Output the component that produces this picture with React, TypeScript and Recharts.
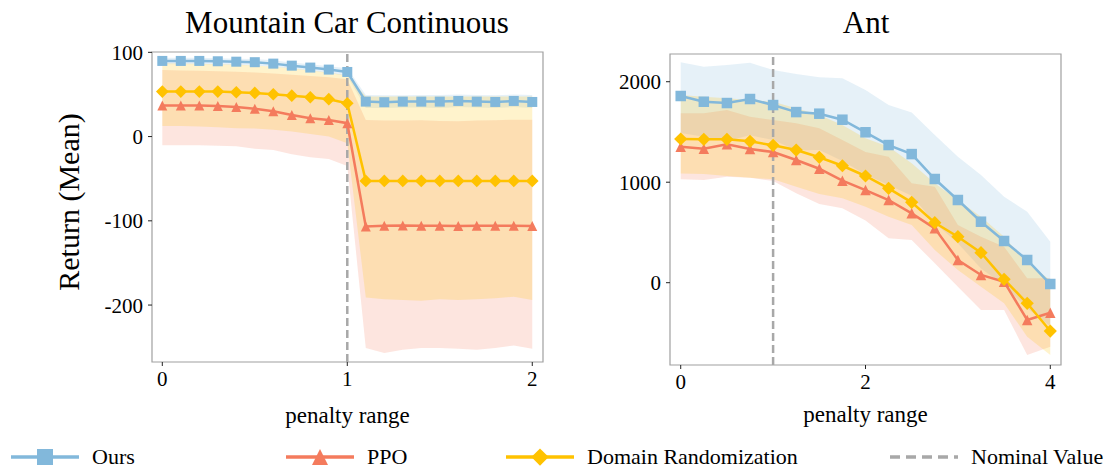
import React from 'react'
import {
  ComposedChart,
  Line,
  Area,
  XAxis,
  YAxis,
  ReferenceLine,
  ReferenceArea,
} from 'recharts'

const FONT = '"Liberation Serif", "DejaVu Serif", "Times New Roman", serif'
const BLUE = '#82B8DB'
const RED = '#F47B5D'
const YELLOW = '#FFC200'
const DASH = '#A8A8A8'
const FRAME = '#A0A0A0'

// Mountain Car Continuous
const mcX = [0, 0.1, 0.2, 0.3, 0.4, 0.5, 0.6, 0.7, 0.8, 0.9, 1.0, 1.1, 1.2, 1.3, 1.4, 1.5, 1.6, 1.7, 1.8, 1.9, 2.0]
const mcOurs = [89.8, 89.8, 89.8, 89.4, 88.9, 88.3, 86.6, 84.2, 81.9, 79.5, 76.7, 41.5, 40.8, 41.5, 41.5, 41.5, 42.3, 41.5, 41.1, 42.3, 41.1]
const mcOursLo = [86, 86, 86, 85.5, 85, 84.5, 83, 80.5, 78, 75.5, 72, 34, 34, 34.5, 34.5, 34, 35, 34.5, 34, 35, 34]
const mcOursHi = [93.5, 93.5, 93.5, 93, 92.5, 92, 90.5, 88, 86, 83.5, 81, 49.5, 49, 49, 49.5, 49.5, 50, 49.5, 49, 50, 49.5]
const mcPpo = [36.8, 36.8, 36.8, 36.4, 35.2, 32.9, 30.1, 25.7, 21.8, 19.8, 15.9, -106.8, -106, -105.5, -106, -106, -106.2, -106, -106, -106, -106.2]
const mcPpoLo = [-10.2, -10.2, -10.3, -10.8, -11.5, -14.5, -16, -21, -24.5, -26.5, -35, -251, -257, -253, -251, -251, -252, -253, -251, -248, -252]
const mcPpoHi = [79, 78.5, 78, 77.5, 77, 76, 75, 73.5, 72, 70.5, 68, 19.8, 19, 19, 19.5, 18.5, 18.3, 19, 19.5, 20, 20]
const mcDr = [53.4, 53.4, 53.4, 53.4, 52.6, 51.8, 50.3, 48.6, 46.7, 44.4, 39.6, -52.6, -52.6, -52.6, -52.6, -52.6, -52.6, -52.6, -52.6, -52.6, -52.6]
const mcDrLo = [12.7, 12.5, 12, 11, 10, 9.5, 8, 6, 3, 0, -7.8, -191, -193, -194, -195, -193, -194, -193, -192, -190, -194]
const mcDrHi = [87, 86.8, 86.5, 86, 85.5, 84.5, 83, 81, 78.5, 76, 72.5, 47.5, 47.5, 47.5, 47.5, 47.5, 47.5, 47.5, 47.5, 47.5, 47.5]
const mcXTicks = [0, 1, 2]
const mcYTicks = [-200, -100, 0, 100]

// Ant
const antX = [0, 0.25, 0.5, 0.75, 1, 1.25, 1.5, 1.75, 2, 2.25, 2.5, 2.75, 3, 3.25, 3.5, 3.75, 4]
const antOurs = [1858, 1801, 1788, 1828, 1768, 1698, 1682, 1622, 1497, 1370, 1280, 1032, 823, 607, 415, 226, -13]
const antOursLo = [1490, 1453, 1410, 1467, 1420, 1319, 1320, 1210, 1077, 972, 865, 594, 392, 142, -26, -255, -434]
const antOursHi = [2193, 2149, 2166, 2189, 2116, 2077, 2044, 2034, 1917, 1768, 1695, 1470, 1254, 1072, 856, 707, 408]
const antPpo = [1353, 1333, 1377, 1330, 1300, 1221, 1134, 1015, 922, 823, 690, 541, 226, 77, 10, -371, -299]
const antPpoLo = [1029, 1022, 1055, 1045, 1012, 889, 783, 740, 620, 442, 425, 193, -40, -272, -272, -719, -637]
const antPpoHi = [1686, 1686, 1718, 1652, 1619, 1586, 1536, 1420, 1300, 1254, 989, 955, 574, 458, 358, 44, 44]
const antDr = [1430, 1427, 1427, 1407, 1367, 1320, 1248, 1164, 1062, 939, 800, 597, 458, 299, 34, -205, -481]
const antDrLo = [1088, 1082, 1062, 1045, 1029, 955, 883, 840, 756, 657, 574, 325, 126, -40, -205, -537, -719]
const antDrHi = [1868, 1851, 1835, 1818, 1801, 1735, 1669, 1569, 1437, 1353, 1188, 989, 823, 657, 458, 193, 27]
const antXTicks = [0, 2, 4]
const antYTicks = [0, 1000, 2000]

const nominalValue = 1

const seriesMeta = [
  { key: 'ours', name: 'Ours', color: BLUE, shape: 'square' },
  { key: 'ppo', name: 'PPO', color: RED, shape: 'triangle' },
  { key: 'dr', name: 'Domain Randomization', color: YELLOW, shape: 'diamond' },
]

function buildRows(
  x: number[],
  ours: number[], oursLo: number[], oursHi: number[],
  ppo: number[], ppoLo: number[], ppoHi: number[],
  dr: number[], drLo: number[], drHi: number[]
) {
  return x.map((v, i) => ({
    x: v,
    ours: ours[i],
    oursBand: [oursLo[i], oursHi[i]],
    ppo: ppo[i],
    ppoBand: [ppoLo[i], ppoHi[i]],
    dr: dr[i],
    drBand: [drLo[i], drHi[i]],
  }))
}

const mcRows = buildRows(mcX, mcOurs, mcOursLo, mcOursHi, mcPpo, mcPpoLo, mcPpoHi, mcDr, mcDrLo, mcDrHi)
const antRows = buildRows(antX, antOurs, antOursLo, antOursHi, antPpo, antPpoLo, antPpoHi, antDr, antDrLo, antDrHi)

function Marker({ shape, cx, cy, size, color }: { shape: string; cx: number; cy: number; size: number; color: string }) {
  const h = size / 2
  if (shape === 'square') {
    return <rect x={cx - h} y={cy - h} width={size} height={size} fill={color} />
  }
  if (shape === 'triangle') {
    return <polygon points={`${cx},${cy - h} ${cx - h},${cy + h} ${cx + h},${cy + h}`} fill={color} />
  }
  const d = h * 1.15
  return <polygon points={`${cx},${cy - d} ${cx + d},${cy} ${cx},${cy + d} ${cx - d},${cy}`} fill={color} />
}

function dotRenderer(shape: string, color: string, size: number) {
  return (p: any) => {
    if (p.cx == null || p.cy == null) return <g key={`e-${p.index}`} />
    return <Marker key={`m-${p.index}`} shape={shape} cx={p.cx} cy={p.cy} size={size} color={color} />
  }
}

const tickStyle = { fill: '#000', fontSize: 21, fontFamily: FONT }

function Panel({
  rows, left, width, height, margin, yAxisWidth, xAxisHeight, xDomain, yDomain, xTicks, yTicks, labelOffset, markerSize,
}: any) {
  return (
    <div style={{ position: 'absolute', left, top: 0, width, height }}>
      <ComposedChart width={width} height={height} data={rows} margin={margin}>
        <XAxis
          dataKey="x"
          type="number"
          domain={xDomain}
          ticks={xTicks}
          allowDataOverflow
          tick={tickStyle}
          tickSize={4}
          tickMargin={5}
          height={xAxisHeight}
          axisLine={false}
          tickLine={{ stroke: '#222' }}
          label={{ value: 'penalty range', position: 'insideBottom', offset: labelOffset, fill: '#000', fontSize: 23, fontFamily: FONT }}
        />
        <YAxis
          type="number"
          domain={yDomain}
          ticks={yTicks}
          allowDataOverflow
          width={yAxisWidth}
          tick={tickStyle}
          tickSize={4}
          tickMargin={5}
          axisLine={false}
          tickLine={{ stroke: '#222' }}
        />
        {seriesMeta.map((s) => (
          <Area
            key={`${s.key}Band`}
            dataKey={`${s.key}Band`}
            type="linear"
            stroke="none"
            fill={s.color}
            fillOpacity={0.2}
            dot={false}
            activeDot={false}
            isAnimationActive={false}
          />
        ))}
        <ReferenceLine x={nominalValue} stroke={DASH} strokeWidth={2.5} strokeDasharray="8 4" />
        {seriesMeta.map((s) => (
          <Line
            key={s.key}
            dataKey={s.key}
            type="linear"
            stroke={s.color}
            strokeWidth={2.5}
            dot={dotRenderer(s.shape, s.color, s.shape === 'diamond' ? markerSize + 1 : markerSize)}
            activeDot={false}
            isAnimationActive={false}
          />
        ))}
        {/* plot frame */}
        <ReferenceArea
          x1={xDomain[0]}
          x2={xDomain[1]}
          y1={yDomain[0]}
          y2={yDomain[1]}
          fill="none"
          fillOpacity={0}
          stroke={FRAME}
          strokeWidth={1.2}
          ifOverflow="visible"
        />
      </ComposedChart>
    </div>
  )
}

const legendX = [11, 286, 506, 890]

function Overlay() {
  return (
    <svg width={1114} height={468} style={{ position: 'absolute', left: 0, top: 0, pointerEvents: 'none' }}>
      <text x={347} y={33} textAnchor="middle" fontSize={31} fontFamily={FONT} fill="#000">
        Mountain Car Continuous
      </text>
      <text x={866} y={33} textAnchor="middle" fontSize={31} fontFamily={FONT} fill="#000">
        Ant
      </text>
      <text
        x={79}
        y={202}
        transform="rotate(-90, 79, 202)"
        textAnchor="middle"
        fontSize={30}
        fontFamily={FONT}
        fill="#000"
      >
        Return (Mean)
      </text>
      {seriesMeta.map((s, i) => (
        <g key={s.key}>
          <line x1={legendX[i]} x2={legendX[i] + 68} y1={457} y2={457} stroke={s.color} strokeWidth={3.5} />
          <Marker shape={s.shape} cx={legendX[i] + 34} cy={457} size={s.shape === 'diamond' ? 15 : 16} color={s.color} />
          <text x={legendX[i] + 81} y={464} fontSize={22} fontFamily={FONT} fill="#000">
            {s.name}
          </text>
        </g>
      ))}
      <line x1={legendX[3]} x2={legendX[3] + 68} y1={457} y2={457} stroke={DASH} strokeWidth={3.5} strokeDasharray="10 6" />
      <text x={legendX[3] + 81} y={464} fontSize={22} fontFamily={FONT} fill="#000">
        Nominal Value
      </text>
    </svg>
  )
}

export default function App() {
  return (
    <div style={{ position: 'absolute', left: 0, top: 0, width: 1114, height: 468, background: '#fff', overflow: 'hidden' }}>
      <Panel
        rows={mcRows}
        left={0}
        width={560}
        height={440}
        margin={{ top: 52, right: 17, left: 0, bottom: 0 }}
        yAxisWidth={152}
        xAxisHeight={78}
        xDomain={[-0.0557, 2.058]}
        yDomain={[-267.6, 100.4]}
        xTicks={mcXTicks}
        yTicks={mcYTicks}
        labelOffset={17}
        markerSize={10}
      />
      <Panel
        rows={antRows}
        left={560}
        width={554}
        height={440}
        margin={{ top: 54, right: 53, left: 0, bottom: 0 }}
        yAxisWidth={110}
        xAxisHeight={75}
        xDomain={[-0.116, 4.116]}
        yDomain={[-819, 2276]}
        xTicks={antXTicks}
        yTicks={antYTicks}
        labelOffset={18}
        markerSize={10.5}
      />
      <Overlay />
    </div>
  )
}
